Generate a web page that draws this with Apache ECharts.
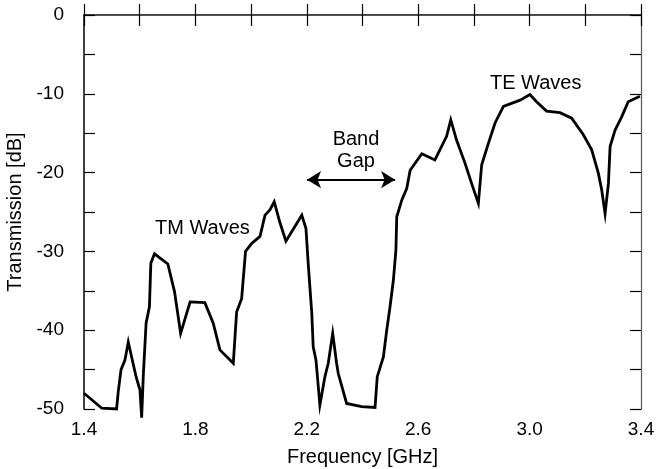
<!DOCTYPE html>
<html>
<head>
<meta charset="utf-8">
<script src="https://cdn.jsdelivr.net/npm/echarts@6/dist/echarts.min.js"></script>
<style>
html,body{margin:0;padding:0;background:#fff;}
#chart{width:662px;height:469px;}
</style>
</head>
<body>
<div id="chart"></div>
<script>
const freqGHz = [1.400,1.464,1.517,1.523,1.533,1.547,1.559,1.571,1.587,1.601,1.607,1.613,1.623,1.635,1.640,1.653,1.701,1.725,1.747,1.781,1.834,1.864,1.888,1.936,1.948,1.966,1.980,2.002,2.032,2.050,2.068,2.083,2.104,2.125,2.182,2.197,2.205,2.218,2.223,2.233,2.247,2.265,2.277,2.293,2.307,2.313,2.343,2.397,2.445,2.453,2.475,2.487,2.499,2.511,2.520,2.523,2.541,2.559,2.571,2.613,2.660,2.702,2.717,2.738,2.768,2.792,2.816,2.828,2.852,2.876,2.906,2.966,3.001,3.025,3.061,3.109,3.151,3.193,3.223,3.247,3.259,3.271,3.283,3.289,3.307,3.331,3.354,3.396];
const transmissionDB = [-48.0,-49.9,-50.0,-47.8,-45.0,-43.8,-41.5,-43.4,-45.9,-47.6,-51.1,-45.7,-39.1,-37.0,-31.5,-30.3,-31.6,-35.1,-40.4,-36.4,-36.5,-39.1,-42.5,-44.2,-37.7,-36.0,-30.0,-29.0,-28.1,-25.4,-24.7,-23.7,-26.4,-28.7,-25.4,-27.1,-31.5,-37.9,-42.1,-43.8,-49.5,-45.9,-44.2,-40.4,-44.2,-45.5,-49.3,-49.7,-49.8,-45.9,-43.4,-40.0,-37.0,-33.6,-29.8,-25.6,-23.5,-22.0,-19.7,-17.6,-18.4,-15.4,-13.3,-15.9,-18.8,-21.4,-23.9,-19.0,-16.3,-13.7,-11.6,-10.8,-10.1,-11.0,-12.2,-12.4,-13.1,-15.2,-17.1,-20.1,-22.2,-25.2,-21.4,-16.7,-14.6,-12.9,-11.0,-10.3];
const xTickLabels = ['1.4','1.8','2.2','2.6','3.0','3.4'];
const yTickLabels = ['0','-10','-20','-30','-40','-50'];
const bandGapArrow = {from: 2.201, to: 2.517, level: -20.9};
const annotations = ['TM Waves', 'Band\nGap', 'TE Waves'];

const FONT = 'Liberation Sans, Arial, sans-serif';
const points = freqGHz.map((f, i) => [f, transmissionDB[i]]);

const axisLineStyle = {color: '#000', width: 1.5};
const chart = echarts.init(document.getElementById('chart'), null, {renderer: 'canvas'});
chart.setOption({
  animation: false,
  backgroundColor: '#fff',
  grid: {left: 84, right: 21, top: 15, bottom: 60, containLabel: false, outerBoundsMode: 'none'},
  xAxis: [{
    type: 'value', min: 1.4, max: 3.4, interval: 0.2, position: 'bottom',
    axisLine: {lineStyle: axisLineStyle},
    axisTick: {inside: true, length: 11, lineStyle: {color: '#000', width: 1.2}},
    splitLine: {show: false},
    axisLabel: {
      color: '#000', fontSize: 19, fontFamily: FONT, margin: 11,
      formatter: v => { const s = v.toFixed(1); return xTickLabels.includes(s) ? s : ''; }
    },
    name: 'Frequency [GHz]', nameLocation: 'middle', nameGap: 38,
    nameTextStyle: {color: '#000', fontSize: 20, fontFamily: FONT}
  }, {
    type: 'value', min: 1.4, max: 3.4, interval: 0.2, position: 'top',
    axisLine: {lineStyle: {color: '#555', width: 1.2}},
    axisTick: {inside: true, length: 11, lineStyle: {color: '#000', width: 1.2}},
    splitLine: {show: false}, axisLabel: {show: false}
  }],
  yAxis: [{
    type: 'value', min: -50, max: 0, interval: 5, position: 'left',
    axisLine: {lineStyle: axisLineStyle},
    axisTick: {inside: true, length: 11, lineStyle: {color: '#000', width: 1.2}},
    splitLine: {show: false},
    axisLabel: {
      color: '#000', fontSize: 19, fontFamily: FONT, margin: 20,
      formatter: v => { const s = String(Math.round(v)); return yTickLabels.includes(s) ? s : ''; }
    },
    name: 'Transmission [dB]', nameLocation: 'middle', nameGap: 53, nameRotate: 90,
    nameTextStyle: {color: '#000', fontSize: 20, fontFamily: FONT}
  }, {
    type: 'value', min: -50, max: 0, interval: 5, position: 'right',
    axisLine: {lineStyle: {color: '#555', width: 1.2}},
    axisTick: {inside: true, length: 11, lineStyle: {color: '#000', width: 1.2}},
    splitLine: {show: false}, axisLabel: {show: false}
  }],
  series: [{
    type: 'line', data: points, xAxisIndex: 0, yAxisIndex: 0,
    showSymbol: false, clip: false,
    lineStyle: {color: '#000', width: 2.8, join: 'miter'},
    markLine: {
      silent: true, symbol: ['arrow', 'arrow'], symbolSize: [13, 14],
      label: {show: false},
      lineStyle: {color: '#000', width: 2, type: 'solid'},
      data: [[{coord: [bandGapArrow.from, bandGapArrow.level]}, {coord: [bandGapArrow.to, bandGapArrow.level]}]]
    }
  }],
  graphic: [
    {type: 'text', left: 155, top: 218, style: {text: annotations[0], fill: '#000', font: '20px ' + FONT}},
    {type: 'text', x: 356, y: 128, style: {text: annotations[1], fill: '#000', font: '20px ' + FONT, textAlign: 'center', lineHeight: 22}},
    {type: 'text', left: 490, top: 73, style: {text: annotations[2], fill: '#000', font: '20px ' + FONT}}
  ]
});
</script>
</body>
</html>
